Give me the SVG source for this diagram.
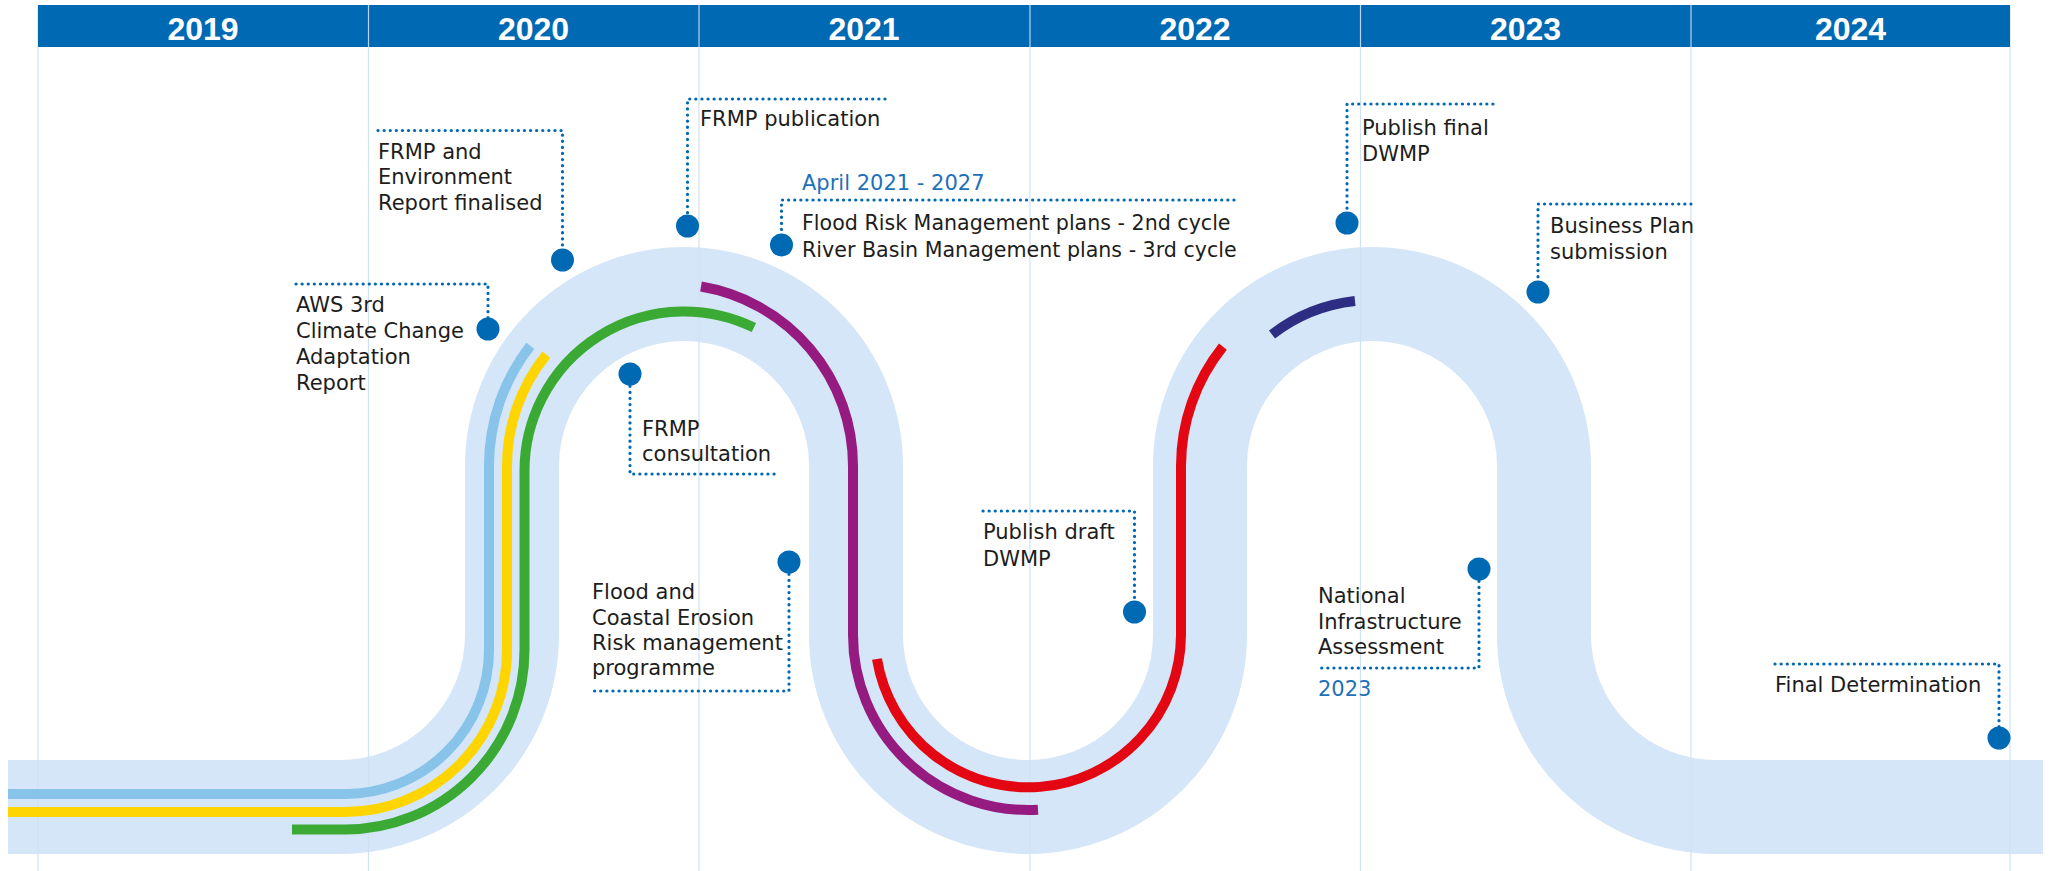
<svg xmlns="http://www.w3.org/2000/svg" width="2049" height="871" viewBox="0 0 2049 871">
<defs>
<style>
.bg{fill:#ffffff}
.grid{stroke:#cfe2f4;stroke-width:1.2;fill:none}
.hdr{fill:#0069b4}
.yr{font-family:"Liberation Sans",Arial,sans-serif;font-weight:bold;font-size:32px;fill:#ffffff;text-anchor:middle}
.band{fill:none;stroke:#d4e6f7;stroke-width:94}
.ln{fill:none;stroke-width:10;stroke-linecap:butt;stroke-linejoin:round}
.lead{fill:none;stroke:#0069b4;stroke-width:3.2;stroke-linecap:round;stroke-dasharray:0.1 6}
.dot{fill:#0069b4}
.lbl{font-family:"DejaVu Sans","Noto Sans",sans-serif;font-size:21px;fill:#1d1d1b}
.sm{font-size:20.6px}
.blu{font-family:"DejaVu Sans","Noto Sans",sans-serif;font-size:21px;fill:#1d71b8}
</style>
</defs>
<rect class="bg" x="0" y="0" width="2049" height="871"/>

<g id="track">
<path class="band" d="M 8 807 H 340 A 172 172 0 0 0 512 635 V 466 A 172 172 0 0 1 856 466 V 635 A 172 172 0 0 0 1200 635 V 466 A 172 172 0 0 1 1544 466 V 635 A 172 172 0 0 0 1716 807 H 2043"/>
</g>

<g id="grid">
<line class="grid" x1="38" y1="5" x2="38" y2="871"/>
<line class="grid" x1="368.5" y1="5" x2="368.5" y2="871"/>
<line class="grid" x1="699" y1="5" x2="699" y2="871"/>
<line class="grid" x1="1030" y1="5" x2="1030" y2="871"/>
<line class="grid" x1="1360.5" y1="5" x2="1360.5" y2="871"/>
<line class="grid" x1="1691" y1="5" x2="1691" y2="871"/>
<line class="grid" x1="2010" y1="5" x2="2010" y2="871"/>
</g>

<g id="header">
<rect class="hdr" x="38" y="5" width="1972" height="42"/>
<g stroke="#b9d4ee" stroke-width="1.2">
<line x1="368.5" y1="5" x2="368.5" y2="47"/>
<line x1="699" y1="5" x2="699" y2="47"/>
<line x1="1030" y1="5" x2="1030" y2="47"/>
<line x1="1360.5" y1="5" x2="1360.5" y2="47"/>
<line x1="1691" y1="5" x2="1691" y2="47"/>
</g>
<text class="yr" x="203" y="40">2019</text>
<text class="yr" x="533.5" y="40">2020</text>
<text class="yr" x="864" y="40">2021</text>
<text class="yr" x="1195" y="40">2022</text>
<text class="yr" x="1525.5" y="40">2023</text>
<text class="yr" x="1850.5" y="40">2024</text>
</g>

<g id="streams">
<path class="ln" stroke="#88c3ea" d="M 8 794 H 345 A 144 144 0 0 0 489 650 V 466 A 195 195 0 0 1 530.3 345.9"/>
<path class="ln" stroke="#ffd500" d="M 8 812 H 345 A 162 162 0 0 0 507 650 V 466 A 177 177 0 0 1 546.4 354.6"/>
<path class="ln" stroke="#3aaa35" d="M 292 829.5 H 345 A 179.5 179.5 0 0 0 524.5 650 V 471 A 159.5 159.5 0 0 1 753.9 327.6"/>
<path class="ln" stroke="#951b81" d="M 701 286.5 A 182 182 0 0 1 853 466 V 635 A 175 175 0 0 0 1038 809.7"/>
<path class="ln" stroke="#e30613" d="M 877 659 A 153 153 0 0 0 1181 635 V 466 A 191 191 0 0 1 1222.9 346.6"/>
<path class="ln" stroke="#2d2e83" d="M 1272 334.5 A 165 165 0 0 1 1355 301"/>
</g>

<g id="connectors">
<path class="lead" d="M 296 284 H 488 V 329"/>
<path class="lead" d="M 378 130.5 H 562.5 V 260"/>
<path class="lead" d="M 885 99 H 687.5 V 226"/>
<path class="lead" d="M 1234 200 H 781.5 V 245"/>
<path class="lead" d="M 630 374 V 474 H 778"/>
<path class="lead" d="M 789 562 V 691 H 592"/>
<path class="lead" d="M 983 511 H 1134.5 V 612"/>
<path class="lead" d="M 1493 104 H 1347 V 223"/>
<path class="lead" d="M 1691 204 H 1538 V 292"/>
<path class="lead" d="M 1479 569 V 668 H 1318"/>
<path class="lead" d="M 1775 664 H 1999 V 738"/>
</g>

<g id="node-aws-ccar">
<circle class="dot" cx="488" cy="329" r="11.5"/>
<text class="lbl" x="296" y="312">AWS 3rd</text>
<text class="lbl" x="296" y="338">Climate Change</text>
<text class="lbl" x="296" y="364">Adaptation</text>
<text class="lbl" x="296" y="389.5">Report</text>
</g>

<g id="node-frmp-env-report">
<circle class="dot" cx="562.5" cy="260" r="11.5"/>
<text class="lbl" x="378" y="158.5">FRMP and</text>
<text class="lbl" x="378" y="184">Environment</text>
<text class="lbl" x="378" y="209.5">Report finalised</text>
</g>

<g id="node-frmp-publication">
<circle class="dot" cx="687.5" cy="226" r="11.5"/>
<text class="lbl" x="700" y="126">FRMP publication</text>
</g>

<g id="node-frmp-rbmp-cycles">
<circle class="dot" cx="781.5" cy="245" r="11.5"/>
<text class="blu" x="802" y="190">April 2021 - 2027</text>
<text class="lbl sm" x="802" y="230">Flood Risk Management plans - 2nd cycle</text>
<text class="lbl sm" x="802" y="256.5">River Basin Management plans - 3rd cycle</text>
</g>

<g id="node-frmp-consultation">
<circle class="dot" cx="630" cy="374" r="11.5"/>
<text class="lbl" x="642" y="436">FRMP</text>
<text class="lbl" x="642" y="461">consultation</text>
</g>

<g id="node-fcerm">
<circle class="dot" cx="789" cy="562" r="11.5"/>
<text class="lbl" x="592" y="599">Flood and</text>
<text class="lbl" x="592" y="625">Coastal Erosion</text>
<text class="lbl" x="592" y="650">Risk management</text>
<text class="lbl" x="592" y="675">programme</text>
</g>

<g id="node-draft-dwmp">
<circle class="dot" cx="1134.5" cy="612" r="11.5"/>
<text class="lbl" x="983" y="539">Publish draft</text>
<text class="lbl" x="983" y="565.5">DWMP</text>
</g>

<g id="node-final-dwmp">
<circle class="dot" cx="1347" cy="223" r="11.5"/>
<text class="lbl" x="1362" y="135">Publish final</text>
<text class="lbl" x="1362" y="160.5">DWMP</text>
</g>

<g id="node-business-plan">
<circle class="dot" cx="1538" cy="292" r="11.5"/>
<text class="lbl" x="1550" y="233">Business Plan</text>
<text class="lbl" x="1550" y="259">submission</text>
</g>

<g id="node-nia">
<circle class="dot" cx="1479" cy="569" r="11.5"/>
<text class="lbl" x="1318" y="603">National</text>
<text class="lbl" x="1318" y="629">Infrastructure</text>
<text class="lbl" x="1318" y="654">Assessment</text>
<text class="blu" x="1318" y="696">2023</text>
</g>

<g id="node-final-determination">
<circle class="dot" cx="1999" cy="738" r="11.5"/>
<text class="lbl" x="1775" y="692">Final Determination</text>
</g>
</svg>
